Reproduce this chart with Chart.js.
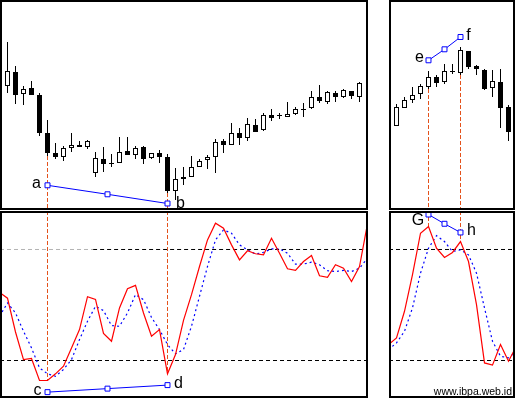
<!DOCTYPE html>
<html>
<head>
<meta charset="utf-8">
<title>Stochastic divergence</title>
<script src="https://cdn.jsdelivr.net/npm/chart.js"></script>
<style>
    body { margin: 0; background: #fff; }
    canvas { position: absolute; }
    #priceLeft { left: 0; top: 0; }
    #priceRight { left: 389px; top: 0; }
    #stochLeft { left: 0; top: 211px; }
    #stochRight { left: 389px; top: 211px; }
</style>
</head>
<body>
<canvas id="priceLeft" width="368" height="210"></canvas>
<canvas id="priceRight" width="126" height="210"></canvas>
<canvas id="stochLeft" width="368" height="187"></canvas>
<canvas id="stochRight" width="126" height="187"></canvas>
<script>
// Left price panel (45 candles)
const leftOpen  = [124, 138, 116, 122, 115, 77, 57, 53, 62, 65, 63, 37, 51, 46, 47, 59, 55, 63, 52, 57, 53, 19, 31, 33, 43, 50, 53, 69, 65, 77, 72, 85, 80, 95, 94, 93, 96, 101, 102, 113, 108, 117, 113, 119, 113];
const leftHigh  = [168, 144, 124, 129, 117, 90, 67, 64, 77, 69, 70, 58, 63, 56, 73, 73, 64, 64, 57, 60, 56, 42, 43, 54, 51, 55, 71, 71, 87, 82, 92, 91, 97, 101, 97, 108, 103, 107, 119, 125, 119, 119, 121, 119, 128];
const leftLow   = [117, 106, 105, 115, 74, 54, 51, 49, 58, 63, 61, 33, 38, 43, 47, 55, 51, 46, 51, 47, 17, 10, 25, 33, 43, 41, 37, 57, 65, 65, 69, 78, 79, 89, 91, 93, 95, 93, 101, 107, 106, 108, 112, 111, 108];
const leftClose = [139, 115, 121, 115, 77, 57, 53, 62, 65, 63, 69, 52, 46, 46, 58, 55, 62, 51, 57, 53, 19, 31, 33, 43, 49, 53, 68, 65, 77, 72, 86, 78, 95, 92, 94, 96, 101, 100, 113, 109, 118, 113, 120, 114, 127];

// Right price panel (15 candles)
const rightOpen  = [84, 102, 110, 116, 123, 133, 128, 138, 137, 159, 144, 140, 122, 128, 103];
const rightHigh  = [106, 113, 123, 126, 139, 135, 146, 146, 163, 159, 145, 141, 140, 141, 105];
const rightLow   = [84, 102, 107, 111, 121, 123, 126, 136, 135, 141, 135, 120, 113, 82, 69];
const rightClose = [103, 110, 115, 124, 133, 127, 139, 138, 160, 143, 141, 121, 129, 102, 78];

// Stochastic %K / %D, first value belongs to bar -1
const leftK = [56.8, 53.7, 35.4, 20.5, 21.1, 9.2, 9.2, 12.8, 16.9, 26.8, 36.7, 54.5, 53.0, 34.6, 30.4, 48.4, 58.8, 60.6, 45.7, 33.1, 36.7, 12.8, 23.2, 41.7, 55.6, 70.8, 85.2, 94.2, 91.5, 82.5, 74.4, 79.3, 77.7, 77.1, 86.1, 78.0, 69.6, 68.7, 73.5, 76.8, 65.8, 64.9, 71.8, 69.9, 62.7, 70.8, 94.0];
const leftD = [43.9, 51.1, 45.7, 35.8, 26.8, 16.0, 12.8, 11.5, 15.1, 20.5, 31.3, 41.2, 49.3, 47.0, 38.9, 38.5, 45.7, 55.6, 52.9, 43.3, 36.7, 28.6, 23.6, 25.9, 38.5, 54.7, 70.8, 85.2, 90.6, 88.8, 82.5, 79.8, 77.5, 78.5, 80.3, 80.4, 78.0, 72.1, 72.1, 73.2, 71.8, 68.5, 68.1, 68.7, 68.1, 69.9, 75.3];
const rightK = [28.6, 32.2, 46.6, 66.4, 88.8, 92.4, 80.7, 75.7, 78.4, 84.3, 73.5, 50.2, 18.7, 17.5, 28.6, 19.6, 27.9];
const rightD = [25.9, 29.5, 35.8, 48.4, 67.2, 80.7, 87.5, 84.3, 78.9, 79.8, 77.1, 67.2, 48.4, 30.4, 22.3, 21.4, 25.0];
const stochFirstBar = -1;
const stochLevels = [80, 20];

// Divergence trendlines: bar positions and values (start, middle, end)
const leftTrendBars = [5, 12.5, 20];
const leftPriceTrend = [24.7, 15.7, 6.5];
const leftStochTrend = [2.9, 4.8, 6.7];
const rightTrendBars = [4, 6, 8];
const rightPriceTrend = [149.7, 160.7, 173];
const rightStochTrend = [98.9, 93.9, 89.2];
const trendLabels = { leftPrice: ['a', 'b'], leftStoch: ['c', 'd'], rightPrice: ['e', 'f'], rightStoch: ['G', 'h'] };
const siteName = 'www.ibpa.web.id';

document.addEventListener('DOMContentLoaded', function() {
    const BAR_PX = 8;
    const X_MIN = -0.9375;
    const PRICE_MIN = 0, PRICE_MAX = 210;
    const STOCH_MIN = -0.27, STOCH_MAX = 100.81;

    // Frame around each panel
    const panelFrame = {
        id: 'panelFrame',
        afterDraw(chart) {
            const ctx = chart.ctx;
            ctx.save();
            ctx.strokeStyle = '#000';
            ctx.lineWidth = 2;
            ctx.strokeRect(1, 1, chart.width - 2, chart.height - 2);
            ctx.restore();
        }
    };

    // Letters next to the trendline ends
    const markerLabels = {
        id: 'markerLabels',
        afterDatasetsDraw(chart, args, opts) {
            const ctx = chart.ctx;
            const xs = chart.scales.x, ys = chart.scales.y;
            ctx.save();
            ctx.fillStyle = '#000';
            ctx.font = '16px "Liberation Sans", Arial, sans-serif';
            ctx.textAlign = 'center';
            (opts.items || []).forEach(item => {
                ctx.fillText(item.text, xs.getPixelForValue(item.x) + item.dx, ys.getPixelForValue(item.y) + item.dy);
            });
            if (opts.footer) {
                ctx.font = '10.5px "Liberation Sans", Arial, sans-serif';
                ctx.textAlign = 'right';
                ctx.fillText(opts.footer, chart.width - 3, chart.height - 3);
            }
            ctx.restore();
        }
    };

    function candleSets(open, high, low, close) {
        return [{
            type: 'bar',
            data: open.map((o, i) => ({ x: i, y: [o, close[i]] })),
            backgroundColor: open.map((o, i) => close[i] >= o ? '#ffffff' : '#000000'),
            borderColor: '#000',
            borderWidth: 1,
            borderSkipped: false,
            barThickness: 5,
            minBarLength: 1,
            inflateAmount: 0,
            grouped: false,
            order: 5
        }, {
            type: 'bar',
            data: low.map((l, i) => ({ x: i, y: [l, high[i]] })),
            backgroundColor: '#000',
            borderWidth: 0,
            barThickness: 1,
            inflateAmount: 0,
            grouped: false,
            order: 6
        }];
    }

    function seriesLine(values, color, dash, order) {
        return {
            type: 'line',
            data: values.map((v, i) => ({ x: i + stochFirstBar, y: v })),
            borderColor: color,
            borderWidth: 1.2,
            borderDash: dash,
            pointRadius: 0,
            tension: 0,
            fill: false,
            order: order
        };
    }

    function plainLine(points, color, dash, order) {
        return {
            type: 'line',
            data: points,
            borderColor: color,
            borderWidth: 1,
            borderDash: dash,
            pointRadius: 0,
            fill: false,
            order: order
        };
    }

    function trendLine(bars, values) {
        return {
            type: 'line',
            data: bars.map((b, i) => ({ x: b, y: values[i] })),
            borderColor: '#0000ff',
            borderWidth: 1,
            pointStyle: 'rect',
            pointRadius: 3.5,
            pointBackgroundColor: '#ffffff',
            pointBorderColor: '#0000ff',
            pointBorderWidth: 1,
            fill: false,
            order: 0
        };
    }

    const orange = '#e4521c';

    function makePanel(id, datasets, yMin, yMax, labelItems, footer) {
        const canvas = document.getElementById(id);
        const xMax = X_MIN + canvas.width / BAR_PX;
        return new Chart(canvas, {
            type: 'bar',
            data: { datasets: datasets(xMax) },
            options: {
                responsive: false,
                animation: false,
                events: [],
                layout: { padding: 0, autoPadding: false },
                scales: {
                    x: { type: 'linear', display: false, offset: false, min: X_MIN, max: xMax },
                    y: { type: 'linear', display: false, min: yMin, max: yMax }
                },
                plugins: {
                    legend: { display: false },
                    tooltip: { enabled: false },
                    markerLabels: { items: labelItems, footer: footer }
                }
            },
            plugins: [markerLabels, panelFrame]
        });
    }

    function levelLines(xMax, greyUntil) {
        const sets = [];
        stochLevels.forEach((lvl, k) => {
            if (k === 0 && greyUntil) {
                sets.push(plainLine([{ x: X_MIN, y: lvl }, { x: greyUntil, y: lvl }], '#b4b4b4', [4, 3], 8));
                sets.push(plainLine([{ x: greyUntil, y: lvl }, { x: xMax, y: lvl }], '#000', [4, 3], 8));
            } else {
                sets.push(plainLine([{ x: X_MIN, y: lvl }, { x: xMax, y: lvl }], '#000', [4, 3], 8));
            }
        });
        return sets;
    }

    function endLabels(bars, values, letters, offsets) {
        return [
            { text: letters[0], x: bars[0], y: values[0], dx: offsets[0][0], dy: offsets[0][1] },
            { text: letters[1], x: bars[2], y: values[2], dx: offsets[1][0], dy: offsets[1][1] }
        ];
    }

    // Top left: candles
    makePanel('priceLeft', () => [
        trendLine(leftTrendBars, leftPriceTrend),
        plainLine([{ x: leftTrendBars[0], y: leftLow[leftTrendBars[0]] }, { x: leftTrendBars[0], y: PRICE_MIN }], orange, [4, 2], 3),
        plainLine([{ x: leftTrendBars[2], y: leftLow[leftTrendBars[2]] }, { x: leftTrendBars[2], y: PRICE_MIN }], orange, [4, 2], 3),
        ...candleSets(leftOpen, leftHigh, leftLow, leftClose)
    ], PRICE_MIN, PRICE_MAX, endLabels(leftTrendBars, leftPriceTrend, trendLabels.leftPrice, [[-11, 2.5], [13, 4.5]]));

    // Top right: candles
    makePanel('priceRight', () => [
        trendLine(rightTrendBars, rightPriceTrend),
        plainLine([{ x: rightTrendBars[0], y: rightLow[rightTrendBars[0]] }, { x: rightTrendBars[0], y: PRICE_MIN }], orange, [4, 2], 3),
        plainLine([{ x: rightTrendBars[2], y: rightLow[rightTrendBars[2]] }, { x: rightTrendBars[2], y: PRICE_MIN }], orange, [4, 2], 3),
        ...candleSets(rightOpen, rightHigh, rightLow, rightClose)
    ], PRICE_MIN, PRICE_MAX, endLabels(rightTrendBars, rightPriceTrend, trendLabels.rightPrice, [[-9, 1.5], [8, 3]]));

    // Bottom left: stochastic
    makePanel('stochLeft', (xMax) => [
        trendLine(leftTrendBars, leftStochTrend),
        seriesLine(leftK, '#ff0000', [], 1),
        seriesLine(leftD, '#0000ff', [2, 3], 2),
        plainLine([{ x: leftTrendBars[0], y: STOCH_MAX }, { x: leftTrendBars[0], y: leftK[leftTrendBars[0] - stochFirstBar] }], orange, [4, 2], 3),
        plainLine([{ x: leftTrendBars[2], y: STOCH_MAX }, { x: leftTrendBars[2], y: leftK[leftTrendBars[2] - stochFirstBar] }], orange, [4, 2], 3),
        ...levelLines(xMax, 10.7)
    ], STOCH_MIN, STOCH_MAX, endLabels(leftTrendBars, leftStochTrend, trendLabels.leftStoch, [[-10, 2.7], [11, 2.7]]));

    // Bottom right: stochastic
    makePanel('stochRight', (xMax) => [
        trendLine(rightTrendBars, rightStochTrend),
        seriesLine(rightK, '#ff0000', [], 1),
        seriesLine(rightD, '#0000ff', [2, 3], 2),
        plainLine([{ x: rightTrendBars[0], y: STOCH_MAX }, { x: rightTrendBars[0], y: rightK[rightTrendBars[0] - stochFirstBar] }], orange, [4, 2], 3),
        plainLine([{ x: rightTrendBars[2], y: STOCH_MAX }, { x: rightTrendBars[2], y: rightK[rightTrendBars[2] - stochFirstBar] }], orange, [4, 2], 3),
        ...levelLines(xMax, null)
    ], STOCH_MIN, STOCH_MAX, endLabels(rightTrendBars, rightStochTrend, trendLabels.rightStoch, [[-10.5, 10.3], [11, 3]]), siteName);
});
</script>
</body>
</html>
